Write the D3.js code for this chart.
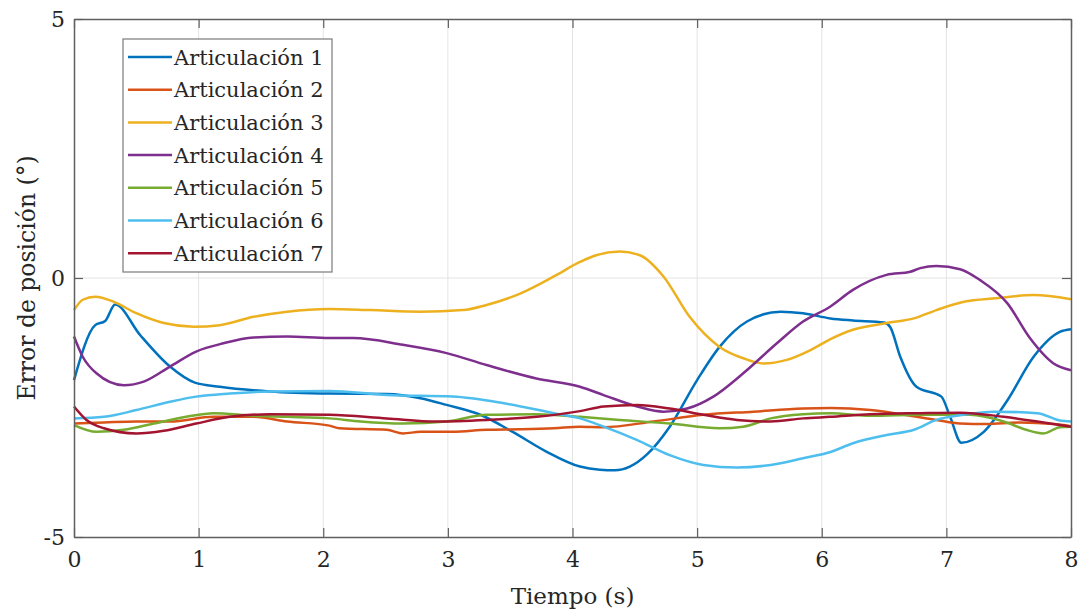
<!DOCTYPE html>
<html>
<head>
<meta charset="utf-8">
<script src="https://cdn.jsdelivr.net/npm/d3@7"></script>
<style>
  html, body { margin: 0; padding: 0; background: #fff; }
  svg { display: block; }
  text { font-family: "DejaVu Serif", "Liberation Serif", serif; fill: #262626; }
</style>
</head>
<body>
<svg id="chart" width="1086" height="615"></svg>
<script>
// Joint position error over time, one trace per joint
const seriesNames = ["Articulación 1", "Articulación 2", "Articulación 3", "Articulación 4",
                     "Articulación 5", "Articulación 6", "Articulación 7"];
const seriesColors = ["#0072BD", "#D95319", "#EDB120", "#7E2F8E", "#77AC30", "#4DBEEE", "#A2142F"];

const xTicks = [0, 1, 2, 3, 4, 5, 6, 7, 8];
const yTicks = [-5, 0, 5];

const t1 = [0, 0.17, 0.25, 0.33, 0.53, 0.77, 0.97, 1.17, 1.57, 2.05, 2.51, 2.78, 2.99, 3.26, 3.52, 3.79, 4.06, 4.22, 4.34, 4.46, 4.60, 4.78, 5.0, 5.18, 5.40, 5.67, 5.85, 6.07, 6.25, 6.50, 6.55, 6.63, 6.76, 6.96, 7.03, 7.12, 7.30, 7.49, 7.70, 7.91, 8.0];
const v1 = [-1.97, -0.91, -0.83, -0.51, -1.10, -1.71, -2.02, -2.10, -2.19, -2.23, -2.24, -2.32, -2.45, -2.64, -2.97, -3.35, -3.64, -3.70, -3.71, -3.64, -3.40, -2.87, -1.97, -1.33, -0.84, -0.65, -0.68, -0.78, -0.82, -0.86, -0.95, -1.52, -2.10, -2.29, -2.68, -3.18, -2.97, -2.36, -1.52, -1.04, -0.99];

const t2 = [0, 0.24, 0.50, 0.77, 1.12, 1.44, 1.71, 2.05, 2.13, 2.51, 2.64, 2.78, 3.04, 3.31, 3.58, 3.85, 4.06, 4.25, 4.65, 5.05, 5.45, 5.85, 6.07, 6.39, 6.66, 6.92, 7.11, 7.32, 7.59, 7.86, 8.0];
const v2 = [-2.81, -2.79, -2.77, -2.77, -2.68, -2.68, -2.77, -2.85, -2.90, -2.93, -3.00, -2.97, -2.97, -2.93, -2.92, -2.90, -2.87, -2.88, -2.77, -2.64, -2.58, -2.52, -2.51, -2.55, -2.64, -2.74, -2.81, -2.82, -2.79, -2.82, -2.86];

const t3 = [0, 0.07, 0.17, 0.32, 0.50, 0.72, 0.96, 1.17, 1.44, 1.71, 2.05, 2.38, 2.78, 3.12, 3.31, 3.58, 3.85, 4.06, 4.19, 4.38, 4.54, 4.73, 4.94, 5.18, 5.37, 5.53, 5.72, 5.91, 6.07, 6.25, 6.52, 6.74, 6.92, 7.14, 7.40, 7.70, 8.0];
const v3 = [-0.62, -0.42, -0.36, -0.46, -0.68, -0.87, -0.94, -0.91, -0.75, -0.65, -0.60, -0.62, -0.65, -0.62, -0.52, -0.30, 0.03, 0.31, 0.44, 0.51, 0.44, 0.03, -0.75, -1.33, -1.55, -1.65, -1.58, -1.39, -1.18, -1.0, -0.87, -0.78, -0.62, -0.46, -0.39, -0.33, -0.41];

const t4 = [0, 0.07, 0.18, 0.40, 0.56, 0.77, 0.98, 1.20, 1.44, 1.71, 2.05, 2.24, 2.64, 2.99, 3.31, 3.71, 4.06, 4.25, 4.52, 4.73, 4.92, 5.13, 5.37, 5.64, 5.85, 6.07, 6.25, 6.52, 6.71, 6.79, 6.92, 7.11, 7.27, 7.49, 7.67, 7.86, 8.0];
const v4 = [-1.13, -1.52, -1.84, -2.07, -2.00, -1.71, -1.42, -1.26, -1.15, -1.13, -1.16, -1.16, -1.29, -1.45, -1.68, -1.94, -2.10, -2.26, -2.48, -2.58, -2.52, -2.29, -1.84, -1.26, -0.84, -0.55, -0.23, 0.06, 0.12, 0.19, 0.23, 0.17, -0.04, -0.49, -1.16, -1.65, -1.78];

const t5 = [0, 0.18, 0.40, 0.64, 0.90, 1.12, 1.44, 1.71, 2.05, 2.30, 2.64, 2.99, 3.31, 3.71, 4.06, 4.38, 4.78, 5.18, 5.37, 5.59, 5.85, 6.07, 6.39, 6.79, 7.19, 7.46, 7.64, 7.78, 7.91, 8.0];
const v5 = [-2.84, -2.97, -2.93, -2.81, -2.68, -2.61, -2.66, -2.68, -2.71, -2.77, -2.81, -2.77, -2.64, -2.63, -2.68, -2.74, -2.81, -2.90, -2.87, -2.71, -2.63, -2.61, -2.66, -2.64, -2.64, -2.77, -2.93, -3.00, -2.88, -2.87];

const t6 = [0, 0.24, 0.50, 0.77, 0.98, 1.25, 1.57, 2.05, 2.51, 3.04, 3.45, 3.85, 4.06, 4.25, 4.52, 4.78, 5.05, 5.32, 5.59, 5.85, 6.07, 6.25, 6.52, 6.74, 6.92, 7.14, 7.38, 7.73, 7.91, 8.0];
const v6 = [-2.71, -2.68, -2.55, -2.39, -2.29, -2.23, -2.19, -2.18, -2.26, -2.29, -2.42, -2.61, -2.71, -2.87, -3.13, -3.42, -3.61, -3.66, -3.61, -3.48, -3.36, -3.19, -3.03, -2.93, -2.74, -2.64, -2.58, -2.61, -2.75, -2.77];

const t7 = [0, 0.10, 0.24, 0.50, 0.72, 0.98, 1.25, 1.57, 2.05, 2.51, 2.91, 3.31, 3.71, 4.06, 4.25, 4.52, 4.78, 5.05, 5.32, 5.59, 5.85, 6.07, 6.39, 6.79, 7.11, 7.46, 7.73, 8.0];
const v7 = [-2.48, -2.74, -2.90, -3.00, -2.95, -2.81, -2.68, -2.63, -2.64, -2.71, -2.77, -2.74, -2.68, -2.57, -2.48, -2.45, -2.52, -2.64, -2.74, -2.77, -2.71, -2.68, -2.63, -2.61, -2.60, -2.68, -2.77, -2.87];

const seriesTimes = [t1, t2, t3, t4, t5, t6, t7];
const seriesValues = [v1, v2, v3, v4, v5, v6, v7];

const svg = d3.select("#chart");
const margin = { left: 74, right: 15, top: 19, bottom: 78 };
const W = 1086, H = 615;
const plotW = W - margin.left - margin.right;
const plotH = H - margin.top - margin.bottom;

const x = d3.scaleLinear().domain([0, 8]).range([margin.left, margin.left + plotW]);
const y = d3.scaleLinear().domain([-5, 5]).range([margin.top + plotH, margin.top]);

// grid
const grid = svg.append("g");
grid.selectAll("line.gx").data(xTicks.slice(1, -1)).join("line")
  .attr("x1", d => x(d)).attr("x2", d => x(d))
  .attr("y1", y(5)).attr("y2", y(-5))
  .attr("stroke", "#e3e3e3").attr("stroke-width", 1);
grid.selectAll("line.gy").data(yTicks.slice(1, -1)).join("line")
  .attr("x1", x(0)).attr("x2", x(8))
  .attr("y1", d => y(d)).attr("y2", d => y(d))
  .attr("stroke", "#e3e3e3").attr("stroke-width", 1);

// data lines
const line = d3.line().curve(d3.curveMonotoneX);
const lines = svg.append("g");
seriesNames.forEach((name, i) => {
  const pts = seriesTimes[i].map((t, k) => [x(t), y(seriesValues[i][k])]);
  lines.append("path")
    .attr("d", line(pts))
    .attr("fill", "none")
    .attr("stroke", seriesColors[i])
    .attr("stroke-width", 2.5)
    .attr("stroke-linejoin", "round");
});

// axes (box with inward ticks)
const axisColor = "#5f5f5f";
const tickLen = 9;
const fmt = d => String(d);
const axBottom = d3.axisBottom(x).tickValues(xTicks).tickSizeInner(-tickLen).tickSizeOuter(0).tickPadding(14).tickFormat(fmt);
const axTop = d3.axisTop(x).tickValues(xTicks).tickSizeInner(-tickLen).tickSizeOuter(0).tickFormat("");
const axLeft = d3.axisLeft(y).tickValues(yTicks).tickSizeInner(-tickLen).tickSizeOuter(0).tickPadding(9).tickFormat(fmt);
const axRight = d3.axisRight(y).tickValues(yTicks).tickSizeInner(-tickLen).tickSizeOuter(0).tickFormat("");

function styleAxis(g) {
  g.select(".domain").attr("stroke", axisColor).attr("stroke-width", 1.5);
  g.selectAll(".tick line").attr("stroke", axisColor).attr("stroke-width", 1.2);
  g.selectAll(".tick text").attr("fill", "#262626")
    .style("font-family", '"DejaVu Serif", serif').style("font-size", "22px");
}
svg.append("g").attr("transform", `translate(0,${y(-5)})`).call(axBottom).call(styleAxis);
svg.append("g").attr("transform", `translate(0,${y(5)})`).call(axTop).call(styleAxis);
svg.append("g").attr("transform", `translate(${x(0)},0)`).call(axLeft).call(styleAxis);
svg.append("g").attr("transform", `translate(${x(8)},0)`).call(axRight).call(styleAxis);

// axis titles
svg.append("text")
  .attr("x", (x(0) + x(8)) / 2).attr("y", 604)
  .attr("text-anchor", "middle")
  .style("font-size", "23px")
  .text("Tiempo (s)");
svg.append("text")
  .attr("transform", `translate(27,${(y(5) + y(-5)) / 2}) rotate(-90)`)
  .attr("text-anchor", "middle")
  .attr("dy", "0.35em")
  .style("font-size", "23.5px")
  .text("Error de posición (°)");

// legend
const lg = svg.append("g").attr("transform", "translate(123,39)");
const rowH = 32.7;
lg.append("rect")
  .attr("x", 0).attr("y", 0)
  .attr("width", 209).attr("height", 233)
  .attr("fill", "#fff").attr("stroke", "#7a7a7a").attr("stroke-width", 1.2);
seriesNames.forEach((name, i) => {
  const cy = 18 + i * rowH;
  lg.append("line")
    .attr("x1", 5).attr("x2", 49).attr("y1", cy).attr("y2", cy)
    .attr("stroke", seriesColors[i]).attr("stroke-width", 2.5);
  lg.append("text")
    .attr("x", 51).attr("y", cy).attr("dy", "0.36em")
    .style("font-size", "21px")
    .text(name);
});
</script>
</body>
</html>
